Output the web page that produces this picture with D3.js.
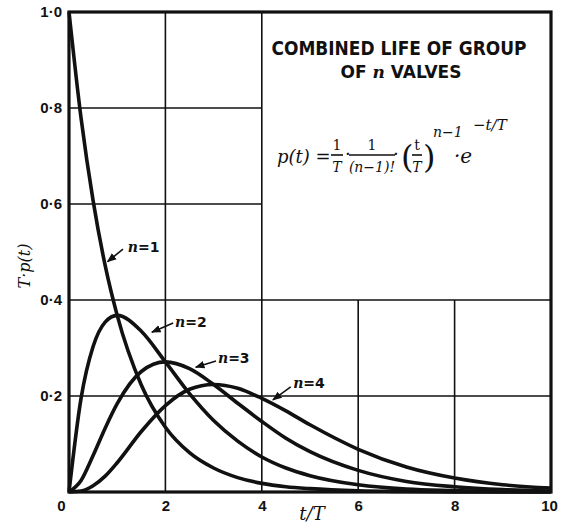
<!DOCTYPE html>
<html>
<head>
<meta charset="utf-8">
<script src="https://cdn.jsdelivr.net/npm/d3@7"></script>
<style>
  body { margin: 0; background: #fff; }
  text { fill: #111; }
</style>
</head>
<body>
<div id="chart"></div>
<script>
// values
const tValues = [0, 0.25, 0.5, 0.75, 1, 1.5, 2, 2.5, 3, 3.5, 4, 4.5, 5, 6, 7, 8, 9, 10]
const n1 = [1, 0.779, 0.607, 0.472, 0.368, 0.223, 0.135, 0.082, 0.050, 0.030, 0.018, 0.011, 0.007, 0.0025, 0.001, 0.0003, 0.0001, 0]
const n2 = [0, 0.195, 0.303, 0.354, 0.368, 0.335, 0.271, 0.205, 0.149, 0.106, 0.073, 0.050, 0.034, 0.015, 0.006, 0.003, 0.001, 0.0005]
const n3 = [0, 0.024, 0.076, 0.133, 0.184, 0.251, 0.271, 0.257, 0.224, 0.185, 0.147, 0.112, 0.084, 0.045, 0.022, 0.011, 0.005, 0.002]
const n4 = [0, 0.002, 0.013, 0.033, 0.061, 0.126, 0.180, 0.214, 0.224, 0.216, 0.195, 0.169, 0.140, 0.089, 0.052, 0.029, 0.015, 0.008]
const seriesNames = ["1", "2", "3", "4"]

const xTicks = [0, 2, 4, 6, 8, 10]
const yTicks = [0.2, 0.4, 0.6, 0.8, 1.0]
const yTickLabels = ["0·2", "0·4", "0·6", "0·8", "1·0"]

// label text anchor, arrow start, arrow tip (data units)
const labelAt = [[1.22, 0.50], [2.2, 0.344], [3.09, 0.269], [4.65, 0.217]]
const arrowFrom = [[1.12, 0.506], [2.16, 0.352], [3.05, 0.273], [4.6, 0.219]]
const arrowTo = [[0.8, 0.48], [1.72, 0.333], [2.63, 0.26], [4.23, 0.192]]

const fullWidth = 568
const fullHeight = 526
const margin = { top: 12, right: 17, bottom: 34, left: 69 }
const width = fullWidth - margin.left - margin.right
const height = fullHeight - margin.top - margin.bottom

const svg = d3.select("#chart")
              .append("svg")
              .attr("width", fullWidth)
              .attr("height", fullHeight)
              .style("font-family", "'DejaVu Sans', sans-serif")

const g = svg.append("g")
             .attr("transform", `translate(${margin.left},${margin.top})`)

const x = d3.scaleLinear().domain([0, 10]).range([0, width])
const y = d3.scaleLinear().domain([0, 1]).range([height, 0])

// grid -- the title box covers t > 4, y > 0.4
const box = { t: 4, v: 0.4 }

g.append("g").selectAll("line.vgrid")
  .data([2, 4, 6, 8])
  .enter()
  .append("line")
  .attr("x1", d => x(d)).attr("x2", d => x(d))
  .attr("y1", y(0))
  .attr("y2", d => d > box.t ? y(box.v) : y(1))
  .attr("stroke", "#111").attr("stroke-width", 1.6)

g.append("g").selectAll("line.hgrid")
  .data([0.2, 0.4, 0.6, 0.8])
  .enter()
  .append("line")
  .attr("y1", d => y(d)).attr("y2", d => y(d))
  .attr("x1", 0)
  .attr("x2", d => d > box.v ? x(box.t) : x(10))
  .attr("stroke", "#111").attr("stroke-width", 1.6)

// frame
g.append("rect")
  .attr("x", 0).attr("y", 0)
  .attr("width", width).attr("height", height)
  .attr("fill", "none")
  .attr("stroke", "#111").attr("stroke-width", 3.2)

// axes
const xAxis = d3.axisBottom(x).tickValues(xTicks).tickSize(0).tickPadding(8)
const yAxis = d3.axisLeft(y).tickValues(yTicks).tickSize(0).tickPadding(7)
                .tickFormat((d, i) => yTickLabels[i])

const xa = g.append("g")
  .attr("transform", `translate(0,${height})`)
  .call(xAxis)
xa.select(".domain").remove()
xa.selectAll("text")
  .attr("font-size", 15).attr("font-weight", "bold").attr("fill", "#111")
  .attr("dx", d => d === 0 ? -8 : (d === 10 ? -2 : 0))

const ya = g.append("g").call(yAxis)
ya.select(".domain").remove()
ya.selectAll("text")
  .attr("font-size", 15).attr("font-weight", "bold").attr("fill", "#111")

// curves
const allSeries = [n1, n2, n3, n4]
const line = d3.line()
               .x((d, i) => x(tValues[i]))
               .y(d => y(d))
               .curve(d3.curveMonotoneX)

g.append("g").selectAll("path.curve")
  .data(allSeries)
  .enter()
  .append("path")
  .attr("d", line)
  .attr("fill", "none")
  .attr("stroke", "#111")
  .attr("stroke-width", 3.6)
  .attr("stroke-linejoin", "round")

// labels with arrows
svg.append("defs").append("marker")
  .attr("id", "arr")
  .attr("viewBox", "0 0 10 10")
  .attr("refX", 9).attr("refY", 5)
  .attr("markerWidth", 6).attr("markerHeight", 6)
  .attr("orient", "auto")
  .append("path")
  .attr("d", "M0,1 L10,5 L0,9 Z")
  .attr("fill", "#111")

seriesNames.forEach((s, i) => {
  g.append("line")
    .attr("x1", x(arrowFrom[i][0])).attr("y1", y(arrowFrom[i][1]))
    .attr("x2", x(arrowTo[i][0])).attr("y2", y(arrowTo[i][1]))
    .attr("stroke", "#111").attr("stroke-width", 1.6)
    .attr("marker-end", "url(#arr)")
  const t = g.append("text")
    .attr("x", x(labelAt[i][0])).attr("y", y(labelAt[i][1]))
    .attr("font-size", 14).attr("font-weight", "bold")
  t.append("tspan").attr("font-style", "italic").attr("font-family", "'DejaVu Serif', serif").text("n")
  t.append("tspan").text("=" + s)
})

// title box text
const title = svg.append("g").attr("font-weight", "bold")
title.append("text")
  .attr("x", 399).attr("y", 55)
  .attr("text-anchor", "middle")
  .attr("font-size", 19)
  .attr("textLength", 255).attr("lengthAdjust", "spacingAndGlyphs")
  .text("COMBINED LIFE OF GROUP")
const t2 = title.append("text")
  .attr("x", 401).attr("y", 78)
  .attr("text-anchor", "middle")
  .attr("font-size", 17)
t2.append("tspan").text("OF ")
t2.append("tspan").attr("font-style", "italic").attr("font-family", "'DejaVu Serif', serif").text("n")
t2.append("tspan").text(" VALVES")

// formula
const f = svg.append("g")
  .attr("font-family", "'DejaVu Serif', serif")
  .attr("font-style", "italic")
  .attr("font-size", 18)
f.append("text").attr("x", 277).attr("y", 163).text("p(t) =")
const frac = (cx, num, den, w) => {
  f.append("text").attr("x", cx).attr("y", 150).attr("text-anchor", "middle").attr("font-size", 14).attr("font-style", "normal").text(num)
  f.append("line").attr("x1", cx - w / 2).attr("x2", cx + w / 2).attr("y1", 155).attr("y2", 155).attr("stroke", "#111").attr("stroke-width", 1.6)
  f.append("text").attr("x", cx).attr("y", 172).attr("text-anchor", "middle").attr("font-size", 14).text(den)
}
frac(337, "1", "T", 12)
f.append("text").attr("x", 345).attr("y", 160).text("·")
frac(372, "1", "(n−1)!", 46)
f.append("text").attr("x", 393).attr("y", 160).text("·")
f.append("text").attr("x", 401).attr("y", 168).attr("font-size", 32).attr("font-style", "normal").text("(")
frac(417, "t", "T", 10)
f.append("text").attr("x", 423).attr("y", 168).attr("font-size", 32).attr("font-style", "normal").text(")")
f.append("text").attr("x", 433).attr("y", 137).attr("font-size", 14).text("n−1")
f.append("text").attr("x", 454).attr("y", 163).attr("font-size", 20).text("·e")
f.append("text").attr("x", 473).attr("y", 130).attr("font-size", 15).text("−t/T")

// axis titles
svg.append("text")
  .attr("x", 312).attr("y", 520)
  .attr("text-anchor", "middle")
  .attr("font-family", "'DejaVu Serif', serif")
  .attr("font-style", "italic")
  .attr("font-size", 18)
  .text("t/T")

svg.append("text")
  .attr("transform", "translate(30,266) rotate(-90)")
  .attr("text-anchor", "middle")
  .attr("font-family", "'DejaVu Serif', serif")
  .attr("font-style", "italic")
  .attr("font-size", 16)
  .text("T·p(t)")
</script>
</body>
</html>
